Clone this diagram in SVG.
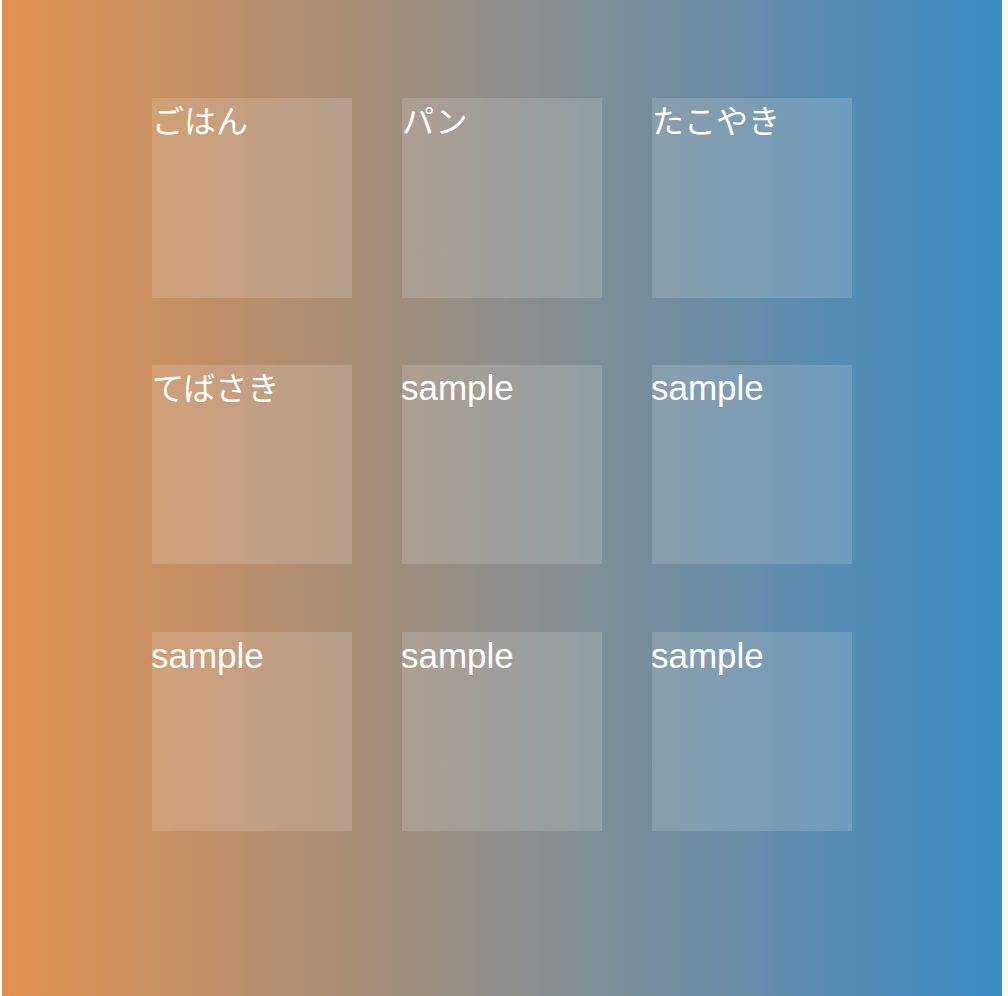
<svg xmlns="http://www.w3.org/2000/svg" width="1008" height="996" viewBox="0 0 1008 996">
  <defs>
    <linearGradient id="bg" x1="0" y1="0" x2="1" y2="0">
      <stop offset="0" stop-color="#E3914E"/>
      <stop offset="1" stop-color="#3A8BC6"/>
    </linearGradient>
    <style>
      .card { fill: #ffffff; fill-opacity: 0.15; }
      .jp { fill: #ffffff; font-family: "Liberation Sans", "Noto Sans CJK JP", sans-serif; font-size: 32px; }
      .en { fill: #ffffff; font-family: "Liberation Sans", "Noto Sans CJK JP", sans-serif; font-size: 35px; }
    </style>
  </defs>
  <rect x="0" y="0" width="1008" height="996" fill="#ffffff"/>
  <rect x="2" y="0" width="1000" height="996" fill="url(#bg)"/>
  <g id="node-1"><rect class="card" x="152" y="98" width="200" height="200"/><text class="jp" x="152" y="133">ごはん</text></g>
  <g id="node-2"><rect class="card" x="402" y="98" width="200" height="200"/><text class="jp" x="402" y="133">パン</text></g>
  <g id="node-3"><rect class="card" x="652" y="98" width="200" height="200"/><text class="jp" x="652" y="133">たこやき</text></g>
  <g id="node-4"><rect class="card" x="152" y="365" width="200" height="199"/><text class="jp" x="152" y="400">てばさき</text></g>
  <g id="node-5"><rect class="card" x="402" y="365" width="200" height="199"/><text class="en" x="401" y="400">sample</text></g>
  <g id="node-6"><rect class="card" x="652" y="365" width="200" height="199"/><text class="en" x="651" y="400">sample</text></g>
  <g id="node-7"><rect class="card" x="152" y="632" width="200" height="199"/><text class="en" x="151" y="668">sample</text></g>
  <g id="node-8"><rect class="card" x="402" y="632" width="200" height="199"/><text class="en" x="401" y="668">sample</text></g>
  <g id="node-9"><rect class="card" x="652" y="632" width="200" height="199"/><text class="en" x="651" y="668">sample</text></g>
  <g id="connectors"/>
</svg>
